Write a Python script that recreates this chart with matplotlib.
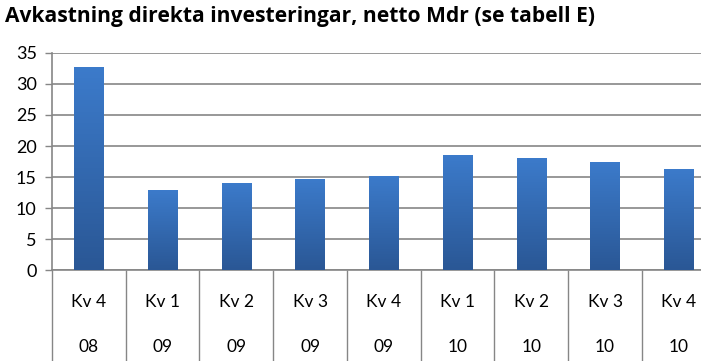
import numpy as np
import matplotlib
matplotlib.use("Agg")
import matplotlib.pyplot as plt
from matplotlib.colors import LinearSegmentedColormap

quarters = ["Kv 4", "Kv 1", "Kv 2", "Kv 3", "Kv 4", "Kv 1", "Kv 2", "Kv 3", "Kv 4"]
years = ["08", "09", "09", "09", "09", "10", "10", "10", "10"]
values = [32.7, 12.9, 14.1, 14.7, 15.2, 18.6, 18.1, 17.4, 16.3]

plt.rcParams['font.family'] = ['Lato', 'DejaVu Sans']
grey = "#868686"

fig = plt.figure(figsize=(7.01, 3.61), dpi=100)
ax = fig.add_axes([52 / 701, 0.2507, 663.75 / 701, 0.6033])

x = np.arange(len(values))
bars = ax.bar(x, values, width=0.4, color="#3a75c2", zorder=3)

# vertical gradient inside each bar
cmap = LinearSegmentedColormap.from_list("bar", ["#2a5795", "#3c7bcb"])
grad = np.linspace(0, 1, 256).reshape(-1, 1)
for b in bars:
    x0, w, h = b.get_x(), b.get_width(), b.get_height()
    im = ax.imshow(grad, cmap=cmap, origin="lower", aspect="auto",
                   extent=[x0, x0 + w, 0, h], zorder=4)
    im.set_clip_path(b)

ax.set_xlim(-0.5, len(values) - 0.5)
ax.set_ylim(0, 35)
ax.set_yticks(range(0, 36, 5))
ax.yaxis.grid(True, color=grey, linewidth=1.2, zorder=0)

ax.set_xticks(x)
ax.set_xticklabels([f"{q}\n\n{y}" for q, y in zip(quarters, years)],
                   fontsize=12.5, linespacing=1.5)
ax.set_xticks(np.arange(-0.5, len(values), 1), minor=True)
ax.tick_params(axis="x", which="major", length=0, pad=17)
ax.tick_params(axis="x", which="minor", length=70, color=grey, width=1)
ax.tick_params(axis="y", length=5, color=grey, width=1, labelsize=13, pad=6)

for s in ["top", "right"]:
    ax.spines[s].set_visible(False)
for s in ["left", "bottom"]:
    ax.spines[s].set_color(grey)
    ax.spines[s].set_linewidth(1.2)

fig.text(0.007, 0.953, "Avkastning direkta investeringar, netto Mdr (se tabell E)",
         fontsize=15.1, fontweight="bold", family=["Open Sans", "DejaVu Sans"],
         va="center", ha="left")

fig.savefig("out.png", dpi=100)
